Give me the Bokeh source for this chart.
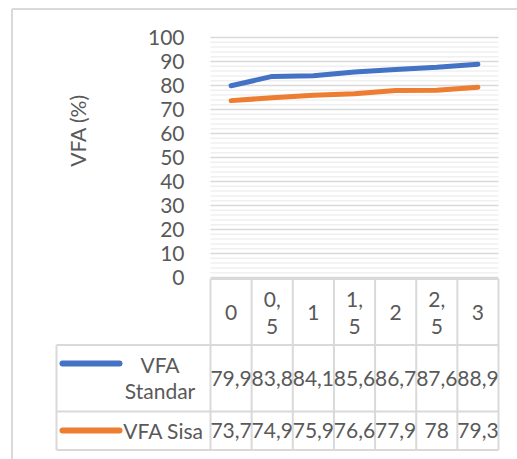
import math
from bokeh.plotting import figure
from bokeh.models import Range1d, FixedTicker, LinearAxis
from bokeh.core.properties import value
from bokeh.embed import file_html
from bokeh.resources import INLINE

# ---------------- data ----------------
categories = ["0", "0,5", "1", "1,5", "2", "2,5", "3"]
vfa_standar = [79.9, 83.8, 84.1, 85.6, 86.7, 87.6, 88.9]
vfa_sisa = [73.7, 74.9, 75.9, 76.6, 77.9, 78.0, 79.3]
series_names = ["VFA Standar", "VFA Sisa"]
y_ticks = list(range(0, 101, 10))
y_minor = [v for v in range(2, 100, 2) if v % 10]
y_label = "VFA (%)"

# ---------------- style ----------------
BLUE = "#4472C4"
ORANGE = "#ED7D31"
GRID = "#d9d9d9"
MINOR = "#f0f0f0"
BORDER = "#d9d9d9"
TEXT = "#595959"
FONT = "Lato"
FS = "21px"

W, H = 517, 459
n = len(categories)
xs = [i + 0.5 for i in range(n)]

# layout geometry (canvas pixels)
PLOT_L, PLOT_R = 210.0, 498.0
ZERO_Y, PY = 277.0, 2.4
PX = (PLOT_R - PLOT_L) / n

def ux(px):
    return (px - PLOT_L) / PX

def vy(py):
    return (ZERO_Y - py) / PY

def fmt(v):
    return ("%g" % v).replace(".", ",")

p = figure(width=W, height=H,
           x_range=Range1d(ux(0), ux(W)), y_range=Range1d(vy(H), vy(0)),
           min_border_left=0, min_border_right=0, min_border_top=0,
           min_border_bottom=0, x_axis_location=None, y_axis_location=None,
           output_backend="svg", toolbar_location=None)
p.outline_line_color = None
p.background_fill_color = "white"
p.border_fill_color = "white"
p.xgrid.visible = False
p.ygrid.visible = False

# y axis drawn at the left edge of the plot area
yaxis = LinearAxis(ticker=FixedTicker(ticks=y_ticks), fixed_location=0)
yaxis.axis_line_color = None
yaxis.major_tick_line_color = None
yaxis.minor_tick_line_color = None
yaxis.major_label_standoff = 20
yaxis.major_label_text_font = FONT
yaxis.major_label_text_font_size = FS
yaxis.major_label_text_color = TEXT
p.add_layout(yaxis, "left")

# gridlines over the plot area only
p.segment(x0=[0] * len(y_minor), y0=y_minor, x1=[n] * len(y_minor), y1=y_minor,
          line_color=MINOR, line_width=1.5)
p.segment(x0=[0] * len(y_ticks), y0=y_ticks, x1=[n] * len(y_ticks), y1=y_ticks,
          line_color=GRID, line_width=1.5)

# outer chart border (top and left)
p.segment(x0=[ux(11.5), ux(11.5)], y0=[vy(8.5), vy(8.5)],
          x1=[ux(W + 5), ux(11.5)], y1=[vy(8.5), vy(H + 5)],
          line_color=BORDER, line_width=2)

# data table grid
bounds = list(range(n + 1))
head_top, head_bot = vy(278.5), vy(344.5)
row2_bot, row3_bot = vy(411), vy(449.5)
leg_left = ux(56)
p.segment(x0=bounds, y0=[head_top] * (n + 1), x1=bounds, y1=[row3_bot] * (n + 1),
          line_color=BORDER, line_width=2)
p.segment(x0=[leg_left], y0=[head_bot], x1=[leg_left], y1=[row3_bot],
          line_color=BORDER, line_width=2)
p.segment(x0=[0, leg_left, leg_left, leg_left], y0=[head_top, head_bot, row2_bot, row3_bot],
          x1=[n] * 4, y1=[head_top, head_bot, row2_bot, row3_bot],
          line_color=BORDER, line_width=2)

# header labels (categories)
p.text(x=xs, y=[vy(311.5)] * n, text=[c.replace(",", ",\n") for c in categories],
       text_align="center", text_baseline="middle",
       text_font=value(FONT), text_font_size=FS, text_color=TEXT,
       text_line_height=1.1)

# series lines
p.line(xs, vfa_standar, line_color=BLUE, line_width=5, line_cap="round", line_join="round")
p.line(xs, vfa_sisa, line_color=ORANGE, line_width=5, line_cap="round", line_join="round")

# y axis title
p.text(x=[ux(77)], y=[vy(130)], text=[y_label], angle=math.pi / 2,
       text_align="center", text_baseline="middle",
       text_font=value(FONT), text_font_size=FS, text_color=TEXT)

# legend keys in the table
key_y = [vy(363), vy(430)]
p.segment(x0=[ux(62)] * 2, y0=key_y, x1=[ux(119)] * 2, y1=key_y,
          line_color=[BLUE, ORANGE], line_width=6, line_cap="round")
p.text(x=[ux(159.5)], y=[vy(377)], text=[series_names[0].replace(" ", "\n")],
       text_align="center", text_baseline="middle", text_font=value(FONT),
       text_font_size=FS, text_color=TEXT, text_line_height=1.07)
p.text(x=[ux(163)], y=[vy(430)], text=[series_names[1]],
       text_align="center", text_baseline="middle", text_font=value(FONT),
       text_font_size=FS, text_color=TEXT)

# table values
for ry, vals in zip([vy(378), vy(430)], [vfa_standar, vfa_sisa]):
    p.text(x=xs, y=[ry] * n, text=[fmt(v) for v in vals],
           text_align="center", text_baseline="middle", text_font=value(FONT),
           text_font_size=FS, text_color=TEXT)

open("out.html", "w").write(file_html(p, INLINE))
